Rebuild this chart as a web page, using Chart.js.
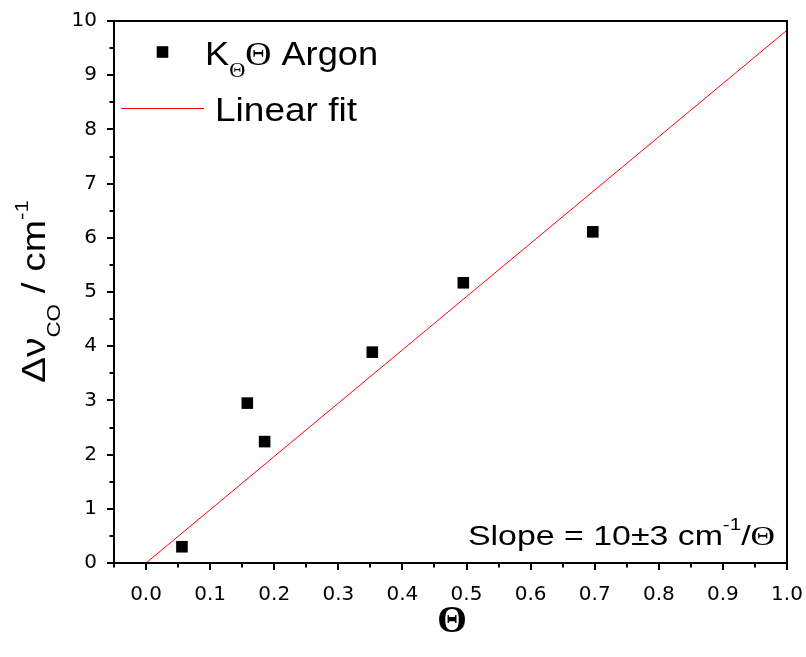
<!DOCTYPE html>
<html>
<head>
<meta charset="utf-8">
<script src="https://cdn.jsdelivr.net/npm/chart.js@4.4.1/dist/chart.umd.min.js"></script>
<style>
  html, body { margin: 0; padding: 0; background: #fff; }
  #wrap { width: 806px; height: 657px; position: relative; }
</style>
</head>
<body>
<div id="wrap"><canvas id="c" width="806" height="657"></canvas></div>
<script>
// ---- data ----
const thetaValues = [0.056, 0.158, 0.185, 0.353, 0.495, 0.697];
const shiftValues = [0.30, 2.95, 2.24, 3.89, 5.17, 6.11];
const fitTheta = [0.0, 1.0];
const fitShift = [0.0, 9.83];
const xTickValues = [0.0, 0.1, 0.2, 0.3, 0.4, 0.5, 0.6, 0.7, 0.8, 0.9, 1.0];
const yTickValues = [0, 1, 2, 3, 4, 5, 6, 7, 8, 9, 10];
const xMinorValues = [-0.05, 0.05, 0.15, 0.25, 0.35, 0.45, 0.55, 0.65, 0.75, 0.85, 0.95];
const yMinorValues = [0.5, 1.5, 2.5, 3.5, 4.5, 5.5, 6.5, 7.5, 8.5, 9.5];
const legendLabels = ['Argon', 'Linear fit'];
const slopeText = 'Slope = 10\u00B13 cm';

const SANS = '"Liberation Sans", Arial, sans-serif';
const SERIF = '"Liberation Serif", "Times New Roman", serif';

function drawRich(ctx, segs, x, y, targetWidth) {
  ctx.save();
  let total = 0;
  segs.forEach(s => { ctx.font = s.font; s.w = ctx.measureText(s.t).width; total += s.w; });
  const sx = targetWidth ? targetWidth / total : 1;
  ctx.translate(x, y);
  ctx.scale(sx, 1);
  ctx.fillStyle = '#000';
  ctx.textBaseline = 'alphabetic';
  ctx.textAlign = 'left';
  let cx = 0;
  segs.forEach(s => { ctx.font = s.font; ctx.fillText(s.t, cx, s.dy || 0); cx += s.w; });
  ctx.restore();
}

const decor = {
  id: 'decor',
  afterDraw(chart) {
    const ctx = chart.ctx;
    const a = chart.chartArea;
    const xs = chart.scales.x, ys = chart.scales.y;
    ctx.save();
    // frame
    ctx.strokeStyle = '#000';
    ctx.lineWidth = 2;
    ctx.strokeRect(a.left, a.top, a.right - a.left, a.bottom - a.top);
    // ticks
    ctx.lineWidth = 2;
    ctx.beginPath();
    xTickValues.forEach(v => { const p = Math.round(xs.getPixelForValue(v)); ctx.moveTo(p, a.bottom); ctx.lineTo(p, a.bottom + 7); });
    xMinorValues.forEach(v => { const p = Math.round(xs.getPixelForValue(v)); ctx.moveTo(p, a.bottom); ctx.lineTo(p, a.bottom + 4.5); });
    yTickValues.forEach(v => { const p = Math.round(ys.getPixelForValue(v)); ctx.moveTo(a.left, p); ctx.lineTo(a.left - 7, p); });
    yMinorValues.forEach(v => { const p = Math.round(ys.getPixelForValue(v)); ctx.moveTo(a.left, p); ctx.lineTo(a.left - 4.5, p); });
    ctx.stroke();

    // legend
    ctx.fillStyle = '#000';
    ctx.fillRect(156.7, 46.2, 11.6, 11.6);
    ctx.strokeStyle = '#ff0000';
    ctx.lineWidth = 1;
    ctx.beginPath(); ctx.moveTo(121, 108.5); ctx.lineTo(204, 108.5); ctx.stroke();
    drawRich(ctx, [
      { t: 'K', font: '34px ' + SANS },
      { t: '\u0398', font: '21px ' + SERIF, dy: 12 },
      { t: '\u0398', font: '34px ' + SERIF },
      { t: ' ' + legendLabels[0], font: '34px ' + SANS }
    ], 205, 64.5, 173);
    drawRich(ctx, [{ t: legendLabels[1], font: '34px ' + SANS }], 215, 120.5, 142);

    // slope annotation
    drawRich(ctx, [
      { t: slopeText, font: '28px ' + SANS },
      { t: '-1', font: '17px ' + SANS, dy: -15 },
      { t: '/', font: '28px ' + SANS },
      { t: '\u0398', font: '28px ' + SERIF }
    ], 468, 545, 307);

    // x title
    ctx.save();
    ctx.font = 'bold 38px ' + SERIF;
    ctx.textAlign = 'center';
    ctx.textBaseline = 'alphabetic';
    ctx.fillStyle = '#000';
    ctx.fillText('\u0398', 452, 632);
    ctx.restore();

    // y title (rotated)
    ctx.save();
    ctx.translate(45, 383);
    ctx.rotate(-Math.PI / 2);
    drawRich(ctx, [
      { t: '\u0394\u03BD', font: '33px ' + SANS },
      { t: 'CO', font: '19px ' + SANS, dy: 15 },
      { t: ' / cm', font: '33px ' + SANS },
      { t: '-1', font: '19px ' + SANS, dy: -17 }
    ], 0, 0, 183);
    ctx.restore();

    ctx.restore();
  }
};

const tickFont = { family: '"DejaVu Sans", sans-serif', size: 20 };

new Chart(document.getElementById('c'), {
  type: 'scatter',
  data: {
    datasets: [
      {
        label: 'Linear fit',
        data: fitTheta.map((v, i) => ({ x: v, y: fitShift[i] })),
        showLine: true,
        borderColor: '#ff0000',
        borderWidth: 1,
        pointRadius: 0,
        fill: false
      },
      {
        label: 'K\u0398\u0398 Argon',
        data: thetaValues.map((v, i) => ({ x: v, y: shiftValues[i] })),
        pointStyle: 'rect',
        pointRadius: 8.2,
        pointBackgroundColor: '#000',
        pointBorderColor: '#000',
        pointBorderWidth: 0,
        showLine: false
      }
    ]
  },
  options: {
    responsive: false,
    animation: false,
    devicePixelRatio: 1,
    layout: { padding: { top: 21, right: 19, bottom: 0, left: 0 } },
    plugins: { legend: { display: false }, tooltip: { enabled: false } },
    scales: {
      x: {
        type: 'linear',
        min: -0.05,
        max: 1.0,
        afterBuildTicks: s => { s.ticks = xTickValues.map(v => ({ value: v })); },
        afterFit: s => { s.height = 94; s.paddingLeft = 0; s.paddingRight = 0; },
        grid: { display: false, drawTicks: false },
        border: { display: false },
        ticks: {
          color: '#000',
          font: tickFont,
          padding: 20,
          maxRotation: 0,
          autoSkip: false,
          callback: v => Number(v).toFixed(1)
        }
      },
      y: {
        type: 'linear',
        min: 0,
        max: 10,
        afterBuildTicks: s => { s.ticks = yTickValues.map(v => ({ value: v })); },
        afterFit: s => { s.width = 114; s.paddingTop = 0; s.paddingBottom = 0; },
        grid: { display: false, drawTicks: false },
        border: { display: false },
        ticks: {
          color: '#000',
          font: tickFont,
          padding: 17,
          autoSkip: false,
          callback: v => String(v)
        }
      }
    }
  },
  plugins: [decor]
});
</script>
</body>
</html>
